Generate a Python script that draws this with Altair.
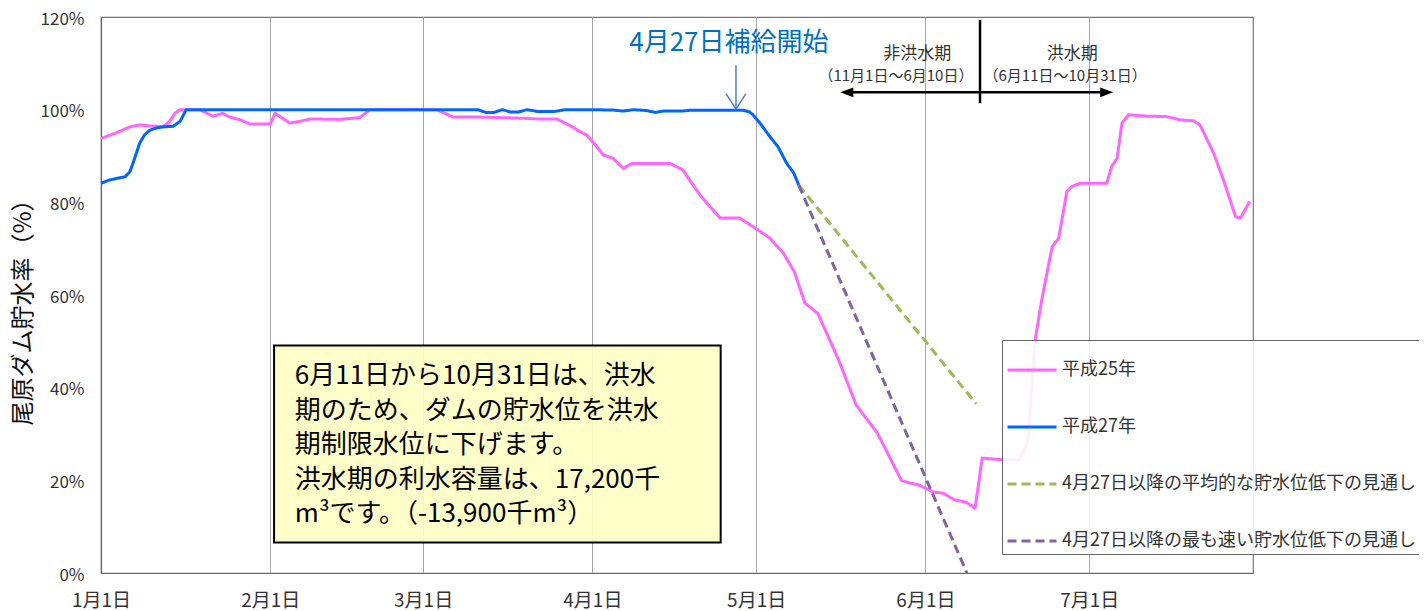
import altair as alt
import pandas as pd

# x: days since 1 January, y: storage rate (%)
h25_day = [0, 2.6, 5.3, 7.1, 9, 11.4, 12.6, 13.6, 14.5, 18.1, 20.5, 22.3, 23.6, 25.5, 27.3,
           31, 31.9, 34.6, 36.5, 38.3, 43.8, 47.4, 49.3, 61.5, 64.5, 69.4, 76, 80, 83.5, 86,
           87.7, 89, 90.5, 92, 93.8, 95.7, 97.2, 100.6, 104.2, 106.6, 108, 109.7, 111, 113.4,
           117, 119.5, 122.5, 125, 127, 128.9, 131.3, 135.1, 138.3, 142.2, 146.6, 147.9,
           149.8, 152.4, 154.3, 156.3, 158.4, 160.1, 161.4, 164.5, 168.3, 169.8, 171.1, 172.3,
           174.2, 175.4, 176.9, 177.8, 179.3, 184.2, 185.1, 186.1, 187, 188.2, 191.6, 195.2,
           197.7, 200.1, 201.3, 203.8, 205.6, 207.8, 208.7, 210.4]
h25_val = [93.8, 94.9, 96.3, 96.7, 96.5, 96.3, 97.5, 99.3, 100, 100, 98.6, 99.2, 98.4, 97.8, 96.9,
           96.9, 99.2, 97.1, 97.5, 98.0, 97.9, 98.3, 100, 100, 98.4, 98.4, 98.2, 98.0, 98.0, 96.5,
           95.3, 94.5, 92.5, 90.2, 89.5, 87.3, 88.4, 88.4, 88.4, 87.0, 84.5, 81.6, 79.8, 76.6,
           76.6, 74.7, 72.3, 69.0, 65.0, 58.3, 56.0, 46.0, 36.3, 30.2, 20.0, 19.5,
           19.0, 17.5, 17.2, 15.8, 15.3, 14.0, 24.8, 24.5, 24.4, 28.7, 50.3, 58.9,
           70.4, 72.2, 82.3, 83.4, 84.1, 84.1, 87.7, 89.5, 97.1, 98.9, 98.6, 98.5,
           97.8, 97.6, 96.7, 90.6, 84.8, 76.9, 76.6, 80.2]

h27_day = [0, 1.5, 3, 4.4, 5.3, 6.1, 7.1, 8, 9, 10, 11.4, 13.2, 14.5, 15.6, 69, 70.5, 72, 73.5,
           75, 76.5, 78, 80, 83, 85, 90, 94, 95.6, 97.5, 100, 101.5, 103, 106.5, 108, 117.6,
           118.8, 119.4, 120.7, 122.5, 124, 125.6, 126.9, 127.8]
h27_val = [84.1, 84.8, 85.2, 85.5, 86.6, 89.3, 92.8, 94.6, 95.6, 96.0, 96.3, 96.4, 97.5, 100, 100,
           99.4, 99.4, 100, 99.5, 99.5, 100, 99.6, 99.6, 100, 100, 99.9, 99.7, 100, 99.8, 99.4,
           99.7, 99.7, 99.9, 99.9, 99.5, 98.9, 97.1, 94.2, 92.0, 88.4, 86.3, 83.7]

avg_day = [127.8, 160.3]
avg_val = [83.7, 36.5]
fast_day = [127.8, 158.6]
fast_val = [83.7, 0.0]

series_names = ["平成25年", "平成27年",
                "4月27日以降の平均的な貯水位低下の見通し",
                "4月27日以降の最も速い貯水位低下の見通し"]
series_colors = ["#FF66FF", "#0066FF", "#9BBB59", "#8064A2"]
series_dash = [[1, 0], [1, 0], [9, 5], [9, 5]]

tick_days = [0, 31, 59, 90, 120, 151, 181]
tick_labels = ["1月1日", "2月1日", "3月1日", "4月1日", "5月1日", "6月1日", "7月1日"]
y_ticks = [0, 20, 40, 60, 80, 100, 120]

note_lines = ["6月11日から10月31日は、洪水",
              "期のため、ダムの貯水位を洪水",
              "期制限水位に下げます。",
              "洪水期の利水容量は、17,200千",
              "m³です。（-13,900千m³）"]

rows = []
for name, ds, vs in zip(series_names, [h25_day, h27_day, avg_day, fast_day],
                        [h25_val, h27_val, avg_val, fast_val]):
    for d, v in zip(ds, vs):
        rows.append({"series": name, "day": d, "val": v})
df = pd.DataFrame(rows)

JP = "Noto Sans CJK JP"

label_expr = "[" + ",".join("'%s'" % t for t in tick_labels) + "][indexof([" + \
    ",".join(str(t) for t in tick_days) + "], datum.value)]"

x_enc = alt.X("day:Q", scale=alt.Scale(domain=[0, 211], nice=False, zero=False),
              axis=alt.Axis(values=tick_days, labelExpr=label_expr, title=None, grid=True,
                            ticks=False, tickSize=0, labelPadding=18, labelFontSize=19,
                            labelFont=JP, labelColor="#333", labelFlush=False))
y_enc = alt.Y("val:Q", scale=alt.Scale(domain=[0, 120], nice=False),
              axis=alt.Axis(values=y_ticks, labelExpr="datum.value + '%'",
                            title="尾原ダム貯水率（%）", titleX=-78, titleY=289,
                            titleAngle=270, titleAlign="center", titleBaseline="middle",
                            titleFontSize=24, titleFont=JP, titleFontWeight="normal",
                            titleColor="#111", ticks=False, tickSize=0, labelPadding=17,
                            labelOffset=2, labelFlush=False,
                            labelFontSize=17, labelFont=JP, labelColor="#333"))

leg = alt.Legend(title=None, orient="none", legendX=901, legendY=323, padding=4,
                 symbolType="stroke", symbolSize=2401, symbolStrokeWidth=3,
                 labelFont=JP, labelFontSize=18, labelColor="#333", labelOffset=4,
                 rowPadding=22, fillColor="rgba(255,255,255,0.88)", strokeColor="#666",
                 labelLimit=600)

color_enc = alt.Color("series:N", scale=alt.Scale(domain=series_names, range=series_colors),
                      legend=leg)
dash_enc = alt.StrokeDash("series:N", scale=alt.Scale(domain=series_names, range=series_dash),
                          legend=leg)

base = alt.Chart(df).encode(x=x_enc, y=y_enc, color=color_enc, strokeDash=dash_enc)

layers = []
for name in series_names:
    layers.append(base.transform_filter(alt.datum.series == name)
                  .mark_line(strokeWidth=3, strokeJoin="round"))

one = pd.DataFrame({"a": [0]})

note_box = alt.Chart(one).mark_rect(fill="#FFFFC4", fillOpacity=0.9, stroke="#000",
                                    strokeWidth=2).encode(
    x=alt.datum(31.7), x2=alt.datum(113.5), y=alt.datum(49.1), y2=alt.datum(6.6))
note_text = alt.Chart(one).mark_text(align="left", baseline="middle", lineBreak="\n",
                                     lineHeight=34.5, fontSize=26, font=JP, color="#000").encode(
    x=alt.datum(35.5), y=alt.datum(42.5), text=alt.value("\n".join(note_lines)))

start_text = alt.Chart(one).mark_text(align="center", baseline="middle", fontSize=26,
                                      font=JP, color="#0070C0").encode(
    x=alt.datum(115.0), y=alt.datum(114.3), text=alt.value("4月27日補給開始"))

arrow_col = "#4F81BD"
shaft = alt.Chart(one).mark_rule(color=arrow_col, strokeWidth=1.5).encode(
    x=alt.datum(116.3), y=alt.datum(109.6), y2=alt.datum(100.2))
wing_l = alt.Chart(one).mark_rule(color=arrow_col, strokeWidth=1.5).encode(
    x=alt.datum(114.5), y=alt.datum(103.4), x2=alt.datum(116.3), y2=alt.datum(100.1))
wing_r = alt.Chart(one).mark_rule(color=arrow_col, strokeWidth=1.5).encode(
    x=alt.datum(118.1), y=alt.datum(103.4), x2=alt.datum(116.3), y2=alt.datum(100.1))

divider = alt.Chart(one).mark_rule(color="#000", strokeWidth=2.5).encode(
    x=alt.datum(161), y=alt.datum(119.4), y2=alt.datum(101.4))
period_line = alt.Chart(one).mark_rule(color="#000", strokeWidth=2.5).encode(
    x=alt.datum(137.5), x2=alt.datum(183.8), y=alt.datum(103.75))
head_l = alt.Chart(one).mark_point(shape="M-1,0L1,-0.75L1,0.75Z", filled=True, color="#000",
                                   opacity=1, size=169).encode(
    x=alt.datum(136.6), y=alt.datum(103.75))
head_r = alt.Chart(one).mark_point(shape="M1,0L-1,-0.75L-1,0.75Z", filled=True, color="#000",
                                   opacity=1, size=169).encode(
    x=alt.datum(184.2), y=alt.datum(103.75))

def label(txt, d, v, size):
    return alt.Chart(one).mark_text(align="center", baseline="middle", fontSize=size,
                                    font=JP, color="#333").encode(
        x=alt.datum(d), y=alt.datum(v), text=alt.value(txt))

t1 = label("非洪水期", 149.5, 112.0, 17)
t2 = label("（11月1日～6月10日）", 145.6, 107.3, 15)
t3 = label("洪水期", 177.9, 112.0, 17)
t4 = label("（6月11日～10月31日）", 176.6, 107.3, 15)

chart = alt.layer(note_box, note_text, *layers, start_text, shaft, wing_l, wing_r,
                  divider, period_line, head_l, head_r, t1, t2, t3, t4).properties(
    width=1152, height=556,
    padding={"left": 93, "top": 9, "right": 166, "bottom": 38},
    autosize=alt.AutoSizeParams(type="none"),
    background="#ffffff",
).configure_view(stroke="#777", strokeWidth=1.2).configure_axis(
    gridColor="#a6a6a6", gridWidth=1, domainColor="#666", domainWidth=1.2)

chart.save("out.html", embed_options={"renderer": "svg", "actions": False})
